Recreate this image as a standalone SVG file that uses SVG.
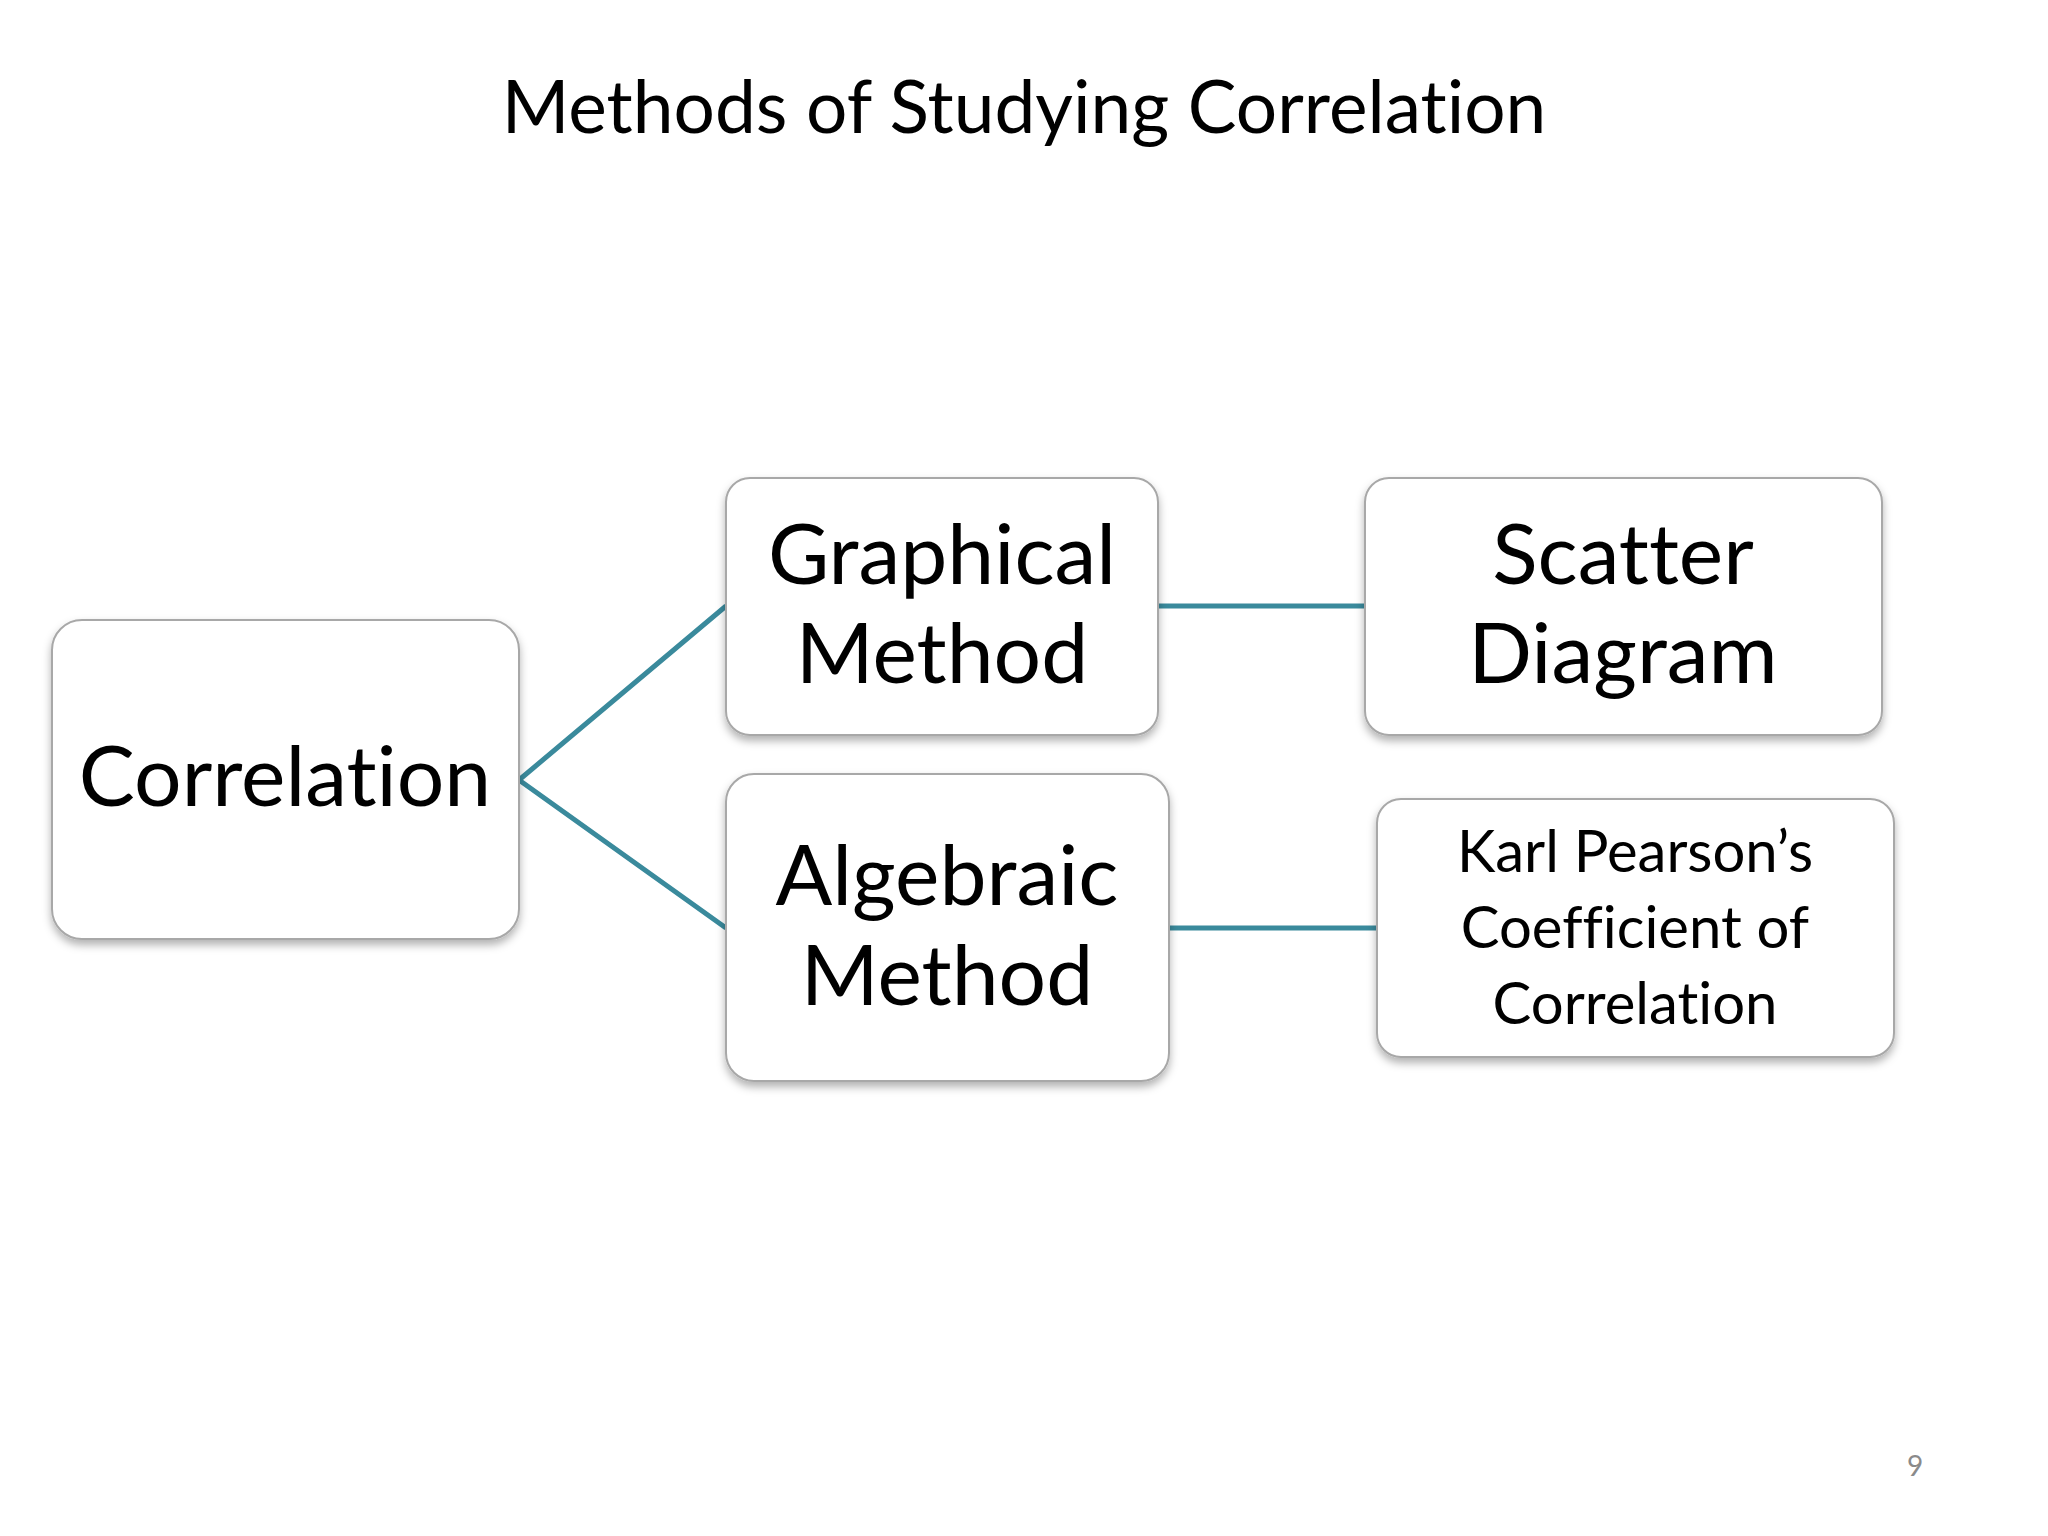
<svg xmlns="http://www.w3.org/2000/svg" width="2048" height="1536" viewBox="0 0 2048 1536">
<style>
.box{fill:#fff;stroke:#a8a8a8;stroke-width:2;filter:url(#sh)}
.t{font-family:Lato,"Open Sans",sans-serif;fill:#000;text-anchor:middle;font-variant-ligatures:none}
.big{font-size:84px}
.sm{font-size:58px}
.c{stroke:#3a8a9c;stroke-width:5;fill:none}
</style>
<defs><filter id="sh" x="-10%" y="-10%" width="120%" height="130%"><feDropShadow dx="0" dy="5" stdDeviation="4" flood-color="#000" flood-opacity="0.3"/></filter></defs>
<rect width="2048" height="1536" fill="#fff"/>
<text class="t" x="1024" y="133" font-size="73">Methods of Studying Correlation</text>
<g id="connectors">
<path class="c" d="M519,780 L726,606 M519,780 L726,928 M1158,606 L1365,606 M1169,928 L1377,928"/>
</g>
<g id="correlation"><rect class="box" x="52" y="620" width="467" height="319" rx="30"/><text class="t big" x="285" y="806">Correlation</text></g>
<g id="graphical"><rect class="box" x="726" y="478" width="432" height="257" rx="24"/><text class="t big" x="942" y="584">Graphical</text><text class="t big" x="942" y="683">Method</text></g>
<g id="algebraic"><rect class="box" x="726" y="774" width="443" height="307" rx="28"/><text class="t big" x="947" y="905">Algebraic</text><text class="t big" x="947" y="1005">Method</text></g>
<g id="scatter"><rect class="box" x="1365" y="478" width="517" height="257" rx="24"/><text class="t big" x="1623" y="584">Scatter</text><text class="t big" x="1623" y="683">Diagram</text></g>
<g id="pearson"><rect class="box" x="1377" y="799" width="517" height="258" rx="24"/><text class="t sm" x="1635" y="872">Karl Pearson’s</text><text class="t sm" x="1635" y="948">Coefficient of</text><text class="t sm" x="1635" y="1024">Correlation</text></g>
<text x="1915" y="1476" font-family="Lato,sans-serif" font-size="28" fill="#8a8a8a" text-anchor="middle">9</text>
</svg>
